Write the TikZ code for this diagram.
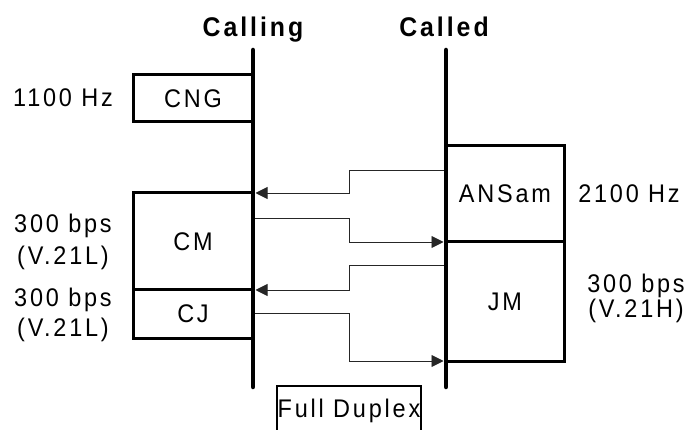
\documentclass[tikz,border=0pt]{standalone}
\usepackage{fontspec}
\setmainfont{Liberation Sans}
\newfontfamily\lblfont[LetterSpace=11,FakeStretch=0.92]{Liberation Sans}
\newfontfamily\ttlfont[LetterSpace=11,FakeStretch=0.92]{Liberation Sans}
\usetikzlibrary{arrows.meta}
\tikzset{
  lbl/.style={font=\lblfont\fontsize{25.5}{28}\selectfont, inner sep=0pt, anchor=base},
  ttl/.style={font=\ttlfont\bfseries\fontsize{27}{30}\selectfont, inner sep=0pt, anchor=base},
  msgbox/.style={draw, line width=3pt, outer sep=0pt, inner sep=0pt, font=\lblfont\fontsize{25.5}{28}\selectfont},
  life/.style={line width=4.5pt, line cap=round},
  arr/.style={line width=0.9pt, draw=black!85, -{Triangle[length=12pt,width=12pt]}},
}
\begin{document}
\begin{tikzpicture}[x=1pt,y=-1pt]
\useasboundingbox (0,0) rectangle (688,430);
% boxes
\node[msgbox, minimum width=120pt, minimum height=47pt] (cng) at (193,98.5) {CNG};
\node[msgbox, minimum width=120pt, minimum height=97pt] (cm) at (193,241.5) {CM};
\node[msgbox, minimum width=120pt, minimum height=48pt] (cj) at (193,314) {CJ};
\node[msgbox, minimum width=118pt, minimum height=96pt] (ans) at (505,194) {ANSam};
\node[msgbox, minimum width=118pt, minimum height=119pt] (jm) at (505,301.5) {JM};
% lifelines
\coordinate (ct) at (253,50);
\coordinate (cb) at (253,387);
\coordinate (dt) at (446,50);
\coordinate (db) at (446,387);
\draw[life] (ct) -- (cb);
\draw[life] (dt) -- (db);
% titles
\node[ttl] (calling) at (253,37) {Calling};
\node[ttl] (called) at (444,37) {Called};
% side labels
\node[lbl] (f1) at (63,107) {1100 Hz};
\node[lbl] (r1a) at (63,233) {300 bps};
\node[lbl] (r1b) at (63,265) {(V.21L)};
\node[lbl] (r2a) at (63,306) {300 bps};
\node[lbl] (r2b) at (63,337) {(V.21L)};
\node[lbl] (f2) at (629,203) {2100 Hz};
\node[lbl] (r3a) at (636,293) {300 bps};
\node[lbl] (r3b) at (636,318) {(V.21H)};
% full duplex
\node[draw, line width=1.2pt, inner sep=0pt, minimum width=144pt, text height=31pt, text depth=25pt, anchor=base, font=\lblfont\fontsize{25.5}{28}\selectfont] (fd) at (349,417) {Full Duplex};
% connectors
\coordinate (a1s) at (444,170);
\coordinate (a1m) at (349,170);
\coordinate (a1n) at (349,193);
\coordinate (a1e) at (255.5,193);
\draw[arr] (a1s) -- (a1m) -- (a1n) -- (a1e);
\coordinate (a2s) at (255,218);
\coordinate (a2m) at (349,218);
\coordinate (a2n) at (349,242);
\coordinate (a2e) at (443.5,242);
\draw[arr] (a2s) -- (a2m) -- (a2n) -- (a2e);
\coordinate (a3s) at (444,265);
\coordinate (a3m) at (349,265);
\coordinate (a3n) at (349,290);
\coordinate (a3e) at (255.5,290);
\draw[arr] (a3s) -- (a3m) -- (a3n) -- (a3e);
\coordinate (a4s) at (255,313);
\coordinate (a4m) at (349,313);
\coordinate (a4n) at (349,361);
\coordinate (a4e) at (443.5,361);
\draw[arr] (a4s) -- (a4m) -- (a4n) -- (a4e);
\end{tikzpicture}
\end{document}
